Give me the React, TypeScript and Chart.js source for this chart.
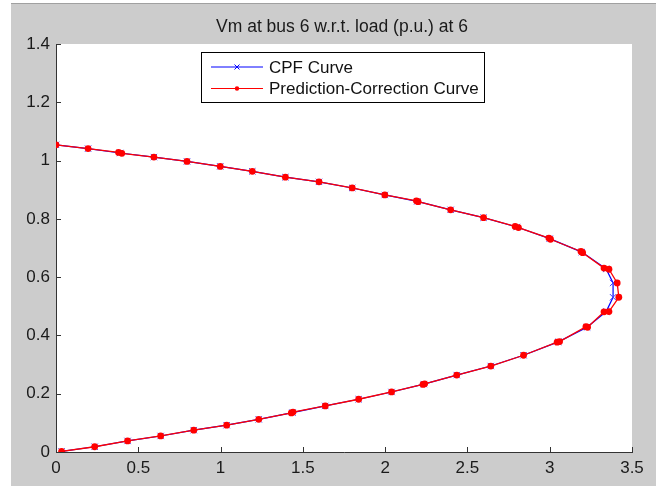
import React, { useEffect, useRef } from 'react';
import { Chart, registerables } from 'chart.js';

Chart.register(...registerables);

// CPF curve (blue, x markers)
const cpfLoad = [
  0.0, 0.195, 0.39, 0.595, 0.796, 0.998, 1.193, 1.394, 1.598, 1.8, 1.998, 2.195,
  2.398, 2.598, 2.8, 3.0, 3.195, 3.343, 3.385, 3.385, 3.343, 3.227, 3.052, 2.841,
  2.642, 2.435, 2.235, 2.039, 1.839, 1.636, 1.437, 1.232, 1.037, 0.837, 0.636,
  0.435, 0.235, 0.034,
];
const cpfVm = [
  1.054, 1.041, 1.026, 1.012, 0.997, 0.98, 0.963, 0.943, 0.927, 0.906, 0.882, 0.86,
  0.831, 0.804, 0.772, 0.732, 0.686, 0.628, 0.58, 0.531, 0.482, 0.428, 0.378, 0.332,
  0.295, 0.264, 0.233, 0.206, 0.181, 0.158, 0.135, 0.112, 0.092, 0.075, 0.055,
  0.038, 0.018, 0.002,
];

// Prediction-Correction curve (red, dot markers)
const pcLoad = [
  0.0, 0.195, 0.38, 0.4, 0.595, 0.796, 0.998, 1.193, 1.394, 1.598, 1.8, 1.998,
  2.19, 2.2, 2.398, 2.598, 2.79, 2.81, 2.995, 3.005, 3.19, 3.2, 3.33, 3.36, 3.41,
  3.42, 3.36, 3.33, 3.23, 3.22, 3.06, 3.045, 2.841, 2.642, 2.435, 2.24, 2.23,
  2.039, 1.839, 1.636, 1.44, 1.43, 1.232, 1.037, 0.837, 0.636, 0.435, 0.235, 0.034,
];
const pcVm = [
  1.054, 1.041, 1.028, 1.025, 1.012, 0.997, 0.98, 0.963, 0.943, 0.927, 0.906, 0.882,
  0.862, 0.859, 0.831, 0.804, 0.774, 0.77, 0.734, 0.73, 0.688, 0.684, 0.631, 0.627,
  0.58, 0.531, 0.482, 0.481, 0.428, 0.43, 0.379, 0.377, 0.332, 0.295, 0.264, 0.234,
  0.232, 0.206, 0.181, 0.158, 0.137, 0.134, 0.112, 0.092, 0.075, 0.055, 0.038,
  0.018, 0.002,
];

const xTicks = [0, 0.5, 1, 1.5, 2, 2.5, 3, 3.5];
const yTicks = [0, 0.2, 0.4, 0.6, 0.8, 1, 1.2, 1.4];

const titleText = 'Vm at bus 6 w.r.t. load (p.u.) at 6';
const seriesNames = ['CPF Curve', 'Prediction-Correction Curve'];

const FONT = '"Liberation Sans", Arial, sans-serif';

const toPoints = (xs: number[], ys: number[]) => xs.map((x, i) => ({ x, y: ys[i] }));

// figure background, title, inward ticks and boxed legend, MATLAB style
const matlabLook = {
  id: 'matlabLook',
  beforeDraw(chart: Chart) {
    const { ctx, width, height, chartArea } = chart;
    ctx.save();
    ctx.fillStyle = '#ffffff';
    ctx.fillRect(0, 0, width, height);
    ctx.fillStyle = '#cccccc';
    ctx.fillRect(11, 4, width - 11, height - 4);
    ctx.fillStyle = '#a0a0a0';
    ctx.fillRect(11, 3, width - 11, 1);
    ctx.fillStyle = '#ffffff';
    ctx.fillRect(chartArea.left, chartArea.top, chartArea.right - chartArea.left, chartArea.bottom - chartArea.top);
    ctx.restore();
  },
  afterDraw(chart: Chart) {
    const { ctx, chartArea } = chart;
    const xs = chart.scales.x;
    const ys = chart.scales.y;
    ctx.save();
    // ticks pointing into the axes
    ctx.strokeStyle = '#333333';
    ctx.lineWidth = 1;
    ctx.beginPath();
    xTicks.forEach((t) => {
      const px = Math.round(xs.getPixelForValue(t)) + 0.5;
      ctx.moveTo(px, chartArea.bottom);
      ctx.lineTo(px, chartArea.bottom - 5);
    });
    yTicks.forEach((t) => {
      const py = Math.round(ys.getPixelForValue(t)) + 0.5;
      ctx.moveTo(chartArea.left, py);
      ctx.lineTo(chartArea.left + 5, py);
    });
    ctx.stroke();

    // title
    ctx.fillStyle = '#1a1a1a';
    ctx.font = `17.5px ${FONT}`;
    ctx.textAlign = 'center';
    ctx.textBaseline = 'alphabetic';
    ctx.fillText(titleText, 342, 32);

    // legend box
    const bx = 201;
    const by = 52;
    const bw = 284;
    const bh = 51;
    ctx.fillStyle = '#ffffff';
    ctx.fillRect(bx, by, bw, bh);
    ctx.strokeStyle = '#000000';
    ctx.strokeRect(bx + 0.5, by + 0.5, bw - 1, bh - 1);
    const rows = [
      { y: 67, color: '#0000ff', marker: 'x' },
      { y: 88.5, color: '#ff0000', marker: 'dot' },
    ];
    rows.forEach((r, i) => {
      ctx.strokeStyle = r.color;
      ctx.fillStyle = r.color;
      ctx.lineWidth = 1;
      ctx.beginPath();
      ctx.moveTo(211, r.y);
      ctx.lineTo(263, r.y);
      ctx.stroke();
      if (r.marker === 'x') {
        ctx.beginPath();
        ctx.moveTo(234.5, r.y - 2.5);
        ctx.lineTo(239.5, r.y + 2.5);
        ctx.moveTo(239.5, r.y - 2.5);
        ctx.lineTo(234.5, r.y + 2.5);
        ctx.stroke();
      } else {
        ctx.beginPath();
        ctx.arc(237, r.y, 2.2, 0, Math.PI * 2);
        ctx.fill();
      }
      ctx.fillStyle = '#111111';
      ctx.font = `17px ${FONT}`;
      ctx.textAlign = 'left';
      ctx.textBaseline = 'middle';
      ctx.fillText(seriesNames[i], 269, r.y + 1);
    });
    ctx.restore();
  },
};

const App: React.FC = () => {
  const canvasRef = useRef<HTMLCanvasElement>(null);

  useEffect(() => {
    if (!canvasRef.current) return;
    const chart = new Chart(canvasRef.current, {
      type: 'line',
      data: {
        datasets: [
          {
            label: seriesNames[0],
            data: toPoints(cpfLoad, cpfVm),
            borderColor: '#0000ff',
            backgroundColor: '#0000ff',
            borderWidth: 1.2,
            pointStyle: 'crossRot',
            pointRadius: 4.5,
            pointBorderWidth: 1,
            pointBorderColor: '#4040ff',
            tension: 0,
            order: 1,
          },
          {
            label: seriesNames[1],
            data: toPoints(pcLoad, pcVm),
            borderColor: '#ff0000',
            backgroundColor: '#ff0000',
            borderWidth: 1.3,
            pointStyle: 'circle',
            pointRadius: 3.4,
            pointBorderWidth: 0,
            tension: 0,
            order: 0,
          },
        ],
      },
      options: {
        animation: false,
        responsive: false,
        devicePixelRatio: 1,
        parsing: false,
        layout: { padding: { left: 0, top: 44, right: 24, bottom: 0 } },
        plugins: {
          legend: { display: false },
          title: { display: false },
          tooltip: { enabled: false },
        },
        scales: {
          x: {
            type: 'linear',
            min: 0,
            max: 3.5,
            afterFit: (s: any) => {
              s.height = 34;
            },
            afterBuildTicks: (s: any) => {
              s.ticks = xTicks.map((v) => ({ value: v }));
            },
            grid: { display: false, drawTicks: false },
            border: { display: true, color: '#333333', width: 1 },
            ticks: {
              color: '#1a1a1a',
              font: { family: FONT, size: 17 },
              padding: 6,
              maxRotation: 0,
              callback: (v: any) => String(v),
            },
          },
          y: {
            type: 'linear',
            min: 0,
            max: 1.4,
            afterFit: (s: any) => {
              s.width = 56;
            },
            afterBuildTicks: (s: any) => {
              s.ticks = yTicks.map((v) => ({ value: v }));
            },
            grid: { display: false, drawTicks: false },
            border: { display: true, color: '#333333', width: 1 },
            ticks: {
              color: '#1a1a1a',
              font: { family: FONT, size: 17 },
              padding: 6,
              callback: (v: any) => String(Math.round(v * 10) / 10),
            },
          },
        },
      },
      plugins: [matlabLook],
    });
    return () => chart.destroy();
  }, []);

  return (
    <div style={{ position: 'fixed', left: 0, top: 0, width: 656, height: 486 }}>
      <canvas ref={canvasRef} width={656} height={486} style={{ width: 656, height: 486 }} />
    </div>
  );
};

export default App;
